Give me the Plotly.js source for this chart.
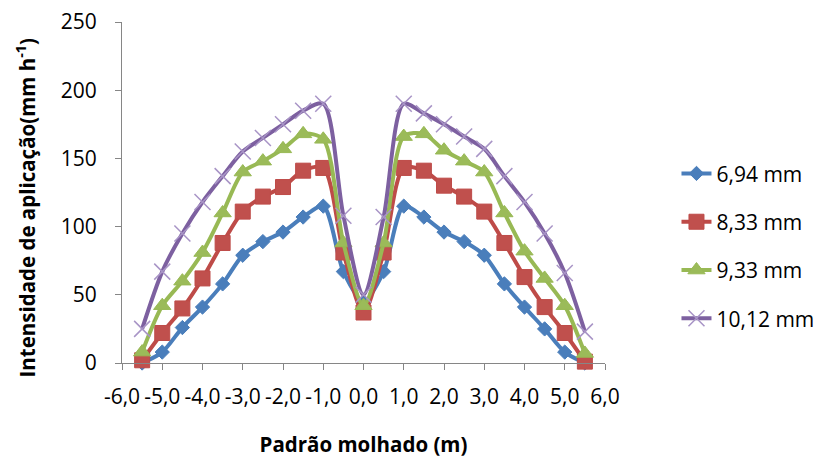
<!DOCTYPE html>
<html>
<head>
<meta charset="utf-8">
<script src="https://cdn.plot.ly/plotly-3.0.1.min.js"></script>
<style>html,body{margin:0;padding:0;background:#fff;}#chart{width:831px;height:468px;}</style>
</head>
<body>
<div id="chart"></div>
<script>
// Data
var xVals = [-5.5,-5,-4.5,-4,-3.5,-3,-2.5,-2,-1.5,-1,-0.5,0,0.5,1,1.5,2,2.5,3,3.5,4,4.5,5,5.5];
var s694  = [0,8,26,41,58,79,89,96,107,115,67,45,67,115,107,96,89,79,58,41,25,8,0];
var s833  = [2,22,40,62,88,111,122,129,141,143,81,37,81,143,141,130,122,111,88,63,41,22,1];
var s933  = [8,42,60,81,110,140,148,157,168,164,88,42,88,166,168,156,148,140,110,82,62,42,7];
var s1012 = [25,67,95,118,137,155,165,175,185,190,108,50,107,190,183,175,166,157,137,118,95,66,23];
var seriesNames = ['6,94 mm','8,33 mm','9,33 mm','10,12 mm'];
var xTickVals = [-6,-5,-4,-3,-2,-1,0,1,2,3,4,5,6];
var xTickText = ['-6,0','-5,0','-4,0','-3,0','-2,0','-1,0','0,0','1,0','2,0','3,0','4,0','5,0','6,0'];
var yTickVals = [0,50,100,150,200,250];
var xTitle = 'Padrão molhado (m)';
var yTitle = 'Intensidade de aplicação(mm h<sup>-1</sup>)';

var FONT = 'Open Sans, Liberation Sans, sans-serif';

function tr(y, name, group, lineColor, marker) {
  return {
    x: xVals, y: y, name: name, type: 'scatter', mode: 'lines+markers',
    legendgroup: group, cliponaxis: false,
    line: {color: lineColor, width: 4, shape: 'spline', smoothing: 0.8},
    marker: marker
  };
}

var data = [
  tr(s694, seriesNames[0], 'a', '#4a7ebb', {symbol: 'diamond', size: 11, color: '#4a7ebb', line: {width: 1, color: '#4a7ebb'}}),
  tr(s833, seriesNames[1], 'b', '#be4b48', {symbol: 'square', size: 15, color: '#c0504d', line: {width: 1, color: '#be4b48'}}),
  tr(s933, seriesNames[2], 'c', '#98b954', {symbol: 'triangle-up', size: 15, color: '#9bbb59', line: {width: 1, color: '#98b954'}}),
  tr(s1012, seriesNames[3], 'd', '#7d60a0', {symbol: 'x-thin-open', size: 16, color: '#a894c6', line: {width: 1.5, color: '#a894c6'}})
];

var layout = {
  width: 831, height: 468,
  margin: {l: 122, r: 220, t: 22, b: 105},
  paper_bgcolor: '#ffffff', plot_bgcolor: '#ffffff',
  font: {family: FONT, size: 21, color: '#000'},
  showlegend: true,
  legend: {
    x: 1.148, y: 0.615, xanchor: 'left', yanchor: 'top',
    traceorder: 'grouped', tracegroupgap: 18,
    font: {family: FONT, size: 21, color: '#000'},
    bgcolor: 'rgba(0,0,0,0)'
  },
  xaxis: {
    range: [-6, 6], tickmode: 'array', tickvals: xTickVals, ticktext: xTickText,
    ticks: 'outside', ticklen: 6, tickcolor: '#868686', tickwidth: 1,
    showline: true, linecolor: '#868686', linewidth: 1,
    showgrid: false, zeroline: false, automargin: false,
    ticklabelstandoff: 9,
    tickfont: {family: FONT, size: 21, color: '#000'},
    title: {text: '<b>' + xTitle + '</b>', font: {family: FONT, size: 20.5, color: '#000'}, standoff: 28}
  },
  yaxis: {
    range: [0, 250], tickmode: 'array', tickvals: yTickVals,
    ticks: 'outside', ticklen: 6, tickcolor: '#868686', tickwidth: 1,
    showline: true, linecolor: '#868686', linewidth: 1,
    showgrid: false, zeroline: false, automargin: false,
    ticklabelstandoff: 14,
    tickfont: {family: FONT, size: 21, color: '#000'}
  },
  annotations: [{
    text: '<b>' + yTitle + '</b>', textangle: -90,
    xref: 'paper', yref: 'paper', x: -0.198, y: 0.457,
    xanchor: 'center', yanchor: 'middle', showarrow: false,
    font: {family: FONT, size: 20.5, color: '#000'}
  }]
};

Plotly.newPlot('chart', data, layout, {displayModeBar: false, staticPlot: true});
</script>
</body>
</html>
